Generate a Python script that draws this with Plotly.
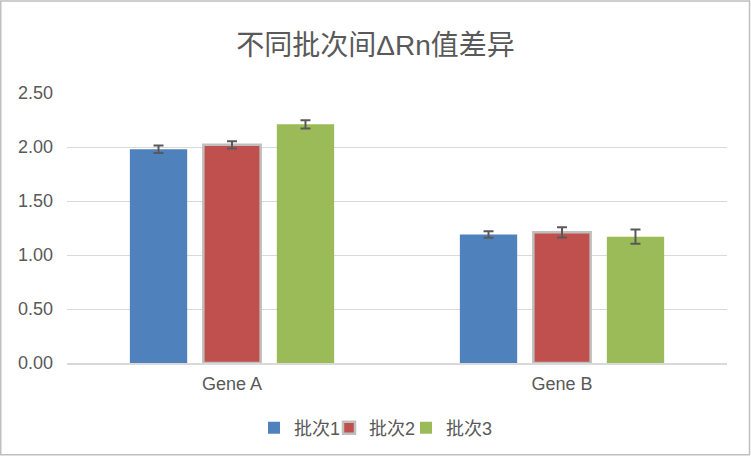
import plotly.graph_objects as go

categories = ["Gene A", "Gene B"]
series_names = ["批次1", "批次2", "批次3"]
batch1 = [1.98, 1.19]
batch2 = [2.02, 1.21]
batch3 = [2.21, 1.17]
err1 = [0.035, 0.03]
err2 = [0.034, 0.048]
err3 = [0.038, 0.065]
colors = ["#4F81BD", "#C0504D", "#9BBB59"]
line_colors = [None, "#BFBFBF", None]

W, H = 751, 457
ML, MR, MT, MB = 67, 24, 93, 93
PW, PH = W - ML - MR, H - MT - MB

def px_x(p):
    return (p - ML) / PW

def px_y(p):
    return (H - MB - p) / PH

FONT = "Liberation Sans, Arial, Noto Sans CJK SC, sans-serif"
legend_ids = ["legend", "legend2", "legend3"]
legend_left_px = [254, 329, 406]

fig = go.Figure()
for name, vals, errs, c, lc, lid in zip(series_names, [batch1, batch2, batch3], [err1, err2, err3],
                                         colors, line_colors, legend_ids):
    fig.add_trace(go.Bar(
        x=categories, y=vals, name=name, legend=lid,
        marker=dict(color=c, line=dict(color=lc if lc else c, width=2.5 if lc else 0)),
        error_y=dict(type="data", array=errs, visible=True, color="#595959", thickness=2, width=5),
    ))

legend_layouts = {}
for lid, lx in zip(legend_ids, legend_left_px):
    legend_layouts[lid] = dict(orientation="h", x=px_x(lx), xanchor="left", y=px_y(428), yanchor="middle",
                               font=dict(size=18, color="#595959"), itemwidth=30,
                               bgcolor="rgba(0,0,0,0)")

fig.update_layout(
    width=W, height=H,
    paper_bgcolor="white", plot_bgcolor="white",
    margin=dict(l=ML, r=MR, t=MT, b=MB, pad=0),
    title=dict(text="不同批次间ΔRn值差异", x=0.5, xanchor="center", y=1 - 45 / H, yanchor="middle",
               font=dict(family=FONT, size=28, color="#595959")),
    font=dict(family=FONT, size=18, color="#595959"),
    barmode="group", bargap=0.332, bargroupgap=0.22,
    showlegend=True,
    yaxis=dict(range=[0, 2.5], dtick=0.5, tickformat=".2f", showgrid=True, gridcolor="#D9D9D9",
               gridwidth=1, zeroline=False, showline=False, ticks="", ticklabelstandoff=13),
    xaxis=dict(showline=True, linecolor="#D9D9D9", linewidth=1.5, ticks="", showgrid=False,
               ticklabelstandoff=4),
    shapes=[dict(type="rect", xref="paper", yref="paper",
                 x0=px_x(0.75), x1=px_x(749.5), y0=px_y(456), y1=px_y(0.75),
                 line=dict(color="#BFBFBF", width=1.5))],
    **legend_layouts,
)

fig.write_html("out.html", config={"displayModeBar": False},
               post_script="document.body.style.margin='0';")
